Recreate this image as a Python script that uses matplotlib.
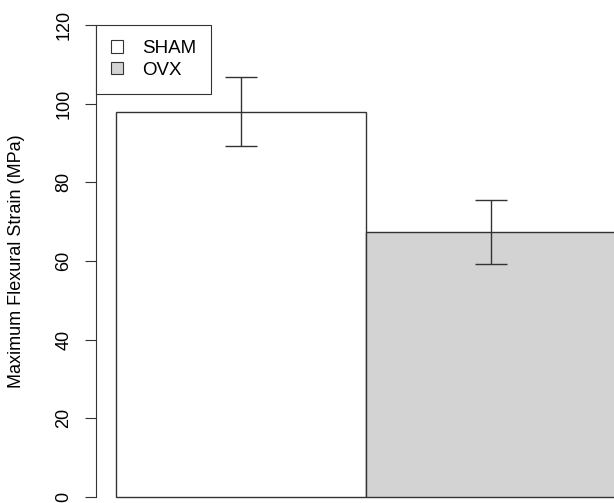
import matplotlib.pyplot as plt
from matplotlib.patches import Patch

plt.rcParams['font.family'] = ['Liberation Sans', 'DejaVu Sans']

# group means and error (MPa)
groups = ['SHAM', 'OVX']
means = [98.0, 67.3]
err_low = [89.2, 59.2]
err_high = [106.8, 75.5]
colors = ['white', '#d3d3d3']
yticks = [0, 20, 40, 60, 80, 100, 120]

edge = '#333333'

fig = plt.figure(figsize=(6.14, 5.03), dpi=100)
ax = fig.add_axes([96/614, 6/503, 518/614, 472/503])

xpos = [0.5, 1.5]
ax.bar(xpos, means, width=1.0, color=colors, edgecolor=edge, linewidth=1.0,
       clip_on=False, zorder=2)

# error bars from the lower/upper values
yerr = [[m - lo for m, lo in zip(means, err_low)],
        [hi - m for m, hi in zip(means, err_high)]]
ax.errorbar(xpos, means, yerr=yerr, fmt='none', ecolor=edge, elinewidth=1.0,
            capsize=11.5, capthick=1.0, zorder=3)

ax.set_xlim(-0.08, 1.992)
ax.set_ylim(0, 120)
ax.set_yticks(yticks)
ax.set_yticklabels([str(t) for t in yticks], rotation=90, va='center', fontsize=13)
ax.tick_params(axis='y', length=8, width=0.8, color=edge, pad=9)
ax.set_xticks([])

for s in ['top', 'right', 'bottom']:
    ax.spines[s].set_visible(False)
ax.spines['left'].set_color(edge)
ax.spines['left'].set_linewidth(0.8)

ax.set_ylabel('Maximum Flexural Strain (MPa)', fontsize=13)
ax.yaxis.set_label_coords(-0.137, 0.5)

handles = [Patch(facecolor=c, edgecolor=edge, linewidth=0.8) for c in colors]
leg = ax.legend(handles, groups, loc='upper left', bbox_to_anchor=(0, 1),
                borderaxespad=0, fancybox=False, edgecolor=edge, fontsize=13.5,
                handlelength=0.66, handleheight=0.66, handletextpad=1.0,
                labelspacing=0.25, borderpad=0.8, framealpha=1)
leg.get_frame().set_linewidth(0.8)
leg.set_zorder(5)

plt.savefig('out.png', dpi=100)
